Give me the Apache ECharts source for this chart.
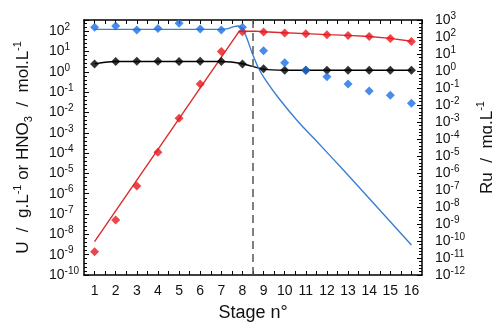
<!DOCTYPE html>
<html><head><meta charset="utf-8">
<script src="https://cdn.jsdelivr.net/npm/echarts@6/dist/echarts.min.js"></script>
<style>html,body{margin:0;padding:0;background:#fff}#c{width:492px;height:324px}</style>
</head><body><div id="c"></div>
<script>
// ---- data ----
const stages = [1,2,3,4,5,6,7,8,9,10,11,12,13,14,15,16];
// U (g/L) measured, left axis
const uMeasured = [1.4e-9, 5.1e-8, 2.4e-6, 1.1e-4, 5.2e-3, 0.25, 10, 93, 91, 81, 74, 66, 62, 55, 43, 31];
// HNO3 (mol/L) measured, left axis
const hno3Measured = [2.45, 3.2, 3.3, 3.3, 3.2, 3.3, 3.2, 2.4, 1.4, 1.2, 1.2, 1.2, 1.2, 1.2, 1.2, 1.2];
// Ru (mg/L) measured, right axis
const ruMeasured = [370, 450, 260, 320, 650, 300, 260, 370, 15.5, 3.1, 1.1, 0.46, 0.17, 0.066, 0.037, 0.0126];
// model curves
const uModelStages = [1, 7.85, 8.6, 9, 10, 11, 12, 13, 14, 15, 16];
const uModel = [4.4e-9, 100, 100, 93, 83, 76, 68, 62, 55, 44, 32];
const hno3ModelStages = [1,2,3,4,5,6,7,8,9,10,11,12,13,14,15,16];
const hno3Model = [2.45, 3.2, 3.2, 3.2, 3.2, 3.2, 3.2, 2.5, 1.35, 1.2, 1.2, 1.2, 1.2, 1.2, 1.2, 1.2];
const ruModelStages = [1, 7, 7.3, 7.6, 7.8, 7.97, 8.15, 8.46, 8.76, 9.09, 9.71, 10.65, 11.38, 12.8, 14.22, 16];
const ruModel = [280, 280, 310, 410, 440, 330, 130, 11.5, 1.5, 0.3, 0.026, 1e-3, 1.1e-4, 1.4e-6, 1.6e-8, 5.8e-11];
const separatorStage = 8.5;
const leftExpRange = [-10, 2.55];
const rightExpRange = [-12, 3];

const FONT = '"Liberation Sans", Arial, sans-serif';
const pair = (xs, ys) => xs.map((x, i) => [x, Math.log10(ys[i])]);
const isInt = v => Math.abs(v - Math.round(v)) < 1e-6;
const powLabel = v => isInt(v) ? '{b|10}{s|' + Math.round(v) + '}' : '';
const tickRich = {
  b: {fontSize: 14, lineHeight: 18, fontFamily: FONT, color: '#111'},
  s: {fontSize: 10, lineHeight: 10, verticalAlign: 'top', fontFamily: FONT, color: '#111'}
};
const nameRich = {
  t: {fontSize: 17, lineHeight: 22, fontFamily: FONT, color: '#111'},
  s: {fontSize: 11, lineHeight: 11, verticalAlign: 'top', fontFamily: FONT, color: '#111'},
  d: {fontSize: 11, lineHeight: 11, verticalAlign: 'bottom', fontFamily: FONT, color: '#111'}
};
const axisLine = {show: true, onZero: false, lineStyle: {color: '#000', width: 1.5}};

const chart = echarts.init(document.getElementById('c'), null, {renderer: 'canvas'});
chart.setOption({
  animation: false,
  backgroundColor: '#fff',
  grid: {left: 84, right: 70, top: 20, bottom: 49, containLabel: false, outerBoundsMode: 'none'},
  xAxis: [{
    type: 'value', min: 0.5, max: 16.5, interval: 0.5, position: 'bottom',
    axisLine: axisLine,
    axisTick: {inside: true, length: 4, lineStyle: {color: '#000', width: 1}},
    axisLabel: {formatter: v => isInt(v) ? String(Math.round(v)) : '', fontSize: 14, fontFamily: FONT, color: '#111', margin: 9, showMinLabel: false, showMaxLabel: false},
    splitLine: {show: false},
    name: 'Stage n°', nameLocation: 'middle', nameGap: 29,
    nameTextStyle: {fontSize: 18, fontFamily: FONT, color: '#111'}
  }, {
    type: 'value', min: 0.5, max: 16.5, interval: 0.5, position: 'top',
    axisLine: axisLine,
    axisTick: {inside: true, length: 4, lineStyle: {color: '#000', width: 1}},
    axisLabel: {show: false}, splitLine: {show: false}
  }],
  yAxis: [{
    type: 'value', min: leftExpRange[0], max: leftExpRange[1], interval: 1, position: 'left',
    axisLine: axisLine,
    axisTick: {inside: true, length: 5, lineStyle: {color: '#000', width: 1}},
    minorTick: {show: true, splitNumber: 5, length: 3, lineStyle: {color: '#000', width: 1}},
    axisLabel: {formatter: powLabel, rich: tickRich, align: 'left', margin: 35, showMaxLabel: true},
    splitLine: {show: false},
    name: '{t|U  /  g.L}{s|-1}{t| or HNO}{d|3}{t|  /  mol.L}{s|-1}',
    nameLocation: 'middle', nameRotate: 90, nameGap: 50,
    nameTextStyle: {rich: nameRich, fontSize: 17, fontFamily: FONT}
  }, {
    type: 'value', min: rightExpRange[0], max: rightExpRange[1], interval: 1, position: 'right',
    axisLine: axisLine,
    axisTick: {inside: true, length: 5, lineStyle: {color: '#000', width: 1}},
    minorTick: {show: true, splitNumber: 5, length: 3, lineStyle: {color: '#000', width: 1}},
    axisLabel: {formatter: powLabel, rich: tickRich, align: 'left', margin: 13},
    splitLine: {show: false},
    name: '{t|Ru  /  mg.L}{s|-1}',
    nameLocation: 'middle', nameRotate: 90, nameGap: 47,
    nameTextStyle: {rich: nameRich, fontSize: 17, fontFamily: FONT}
  }],
  series: [
    {type: 'line', name: 'U model', data: pair(uModelStages, uModel), yAxisIndex: 0, showSymbol: false,
     lineStyle: {color: '#dc2b2f', width: 1.4}, z: 2,
     markLine: {silent: true, symbol: 'none', label: {show: false},
       lineStyle: {type: [8, 5], color: '#555', width: 1.5},
       data: [{xAxis: separatorStage}]}},
    {type: 'line', name: 'HNO3 model', data: pair(hno3ModelStages, hno3Model), yAxisIndex: 0, showSymbol: false,
     smooth: 0.3, lineStyle: {color: '#000', width: 1.4}, z: 2},
    {type: 'line', name: 'Ru model', data: pair(ruModelStages, ruModel), yAxisIndex: 1, showSymbol: false,
     smooth: 0.3, lineStyle: {color: '#3b7fd0', width: 1.4}, z: 2},
    {type: 'scatter', name: 'U', data: pair(stages, uMeasured), yAxisIndex: 0,
     symbol: 'diamond', symbolSize: 9, itemStyle: {color: '#e8161d'}, z: 4},
    {type: 'scatter', name: 'HNO3', data: pair(stages, hno3Measured), yAxisIndex: 0,
     symbol: 'diamond', symbolSize: 9, itemStyle: {color: '#000'}, z: 4},
    {type: 'scatter', name: 'Ru', data: pair(stages, ruMeasured), yAxisIndex: 1,
     symbol: 'diamond', symbolSize: 9, itemStyle: {color: '#1a6fe6'}, z: 4}
  ]
});
</script></body></html>
